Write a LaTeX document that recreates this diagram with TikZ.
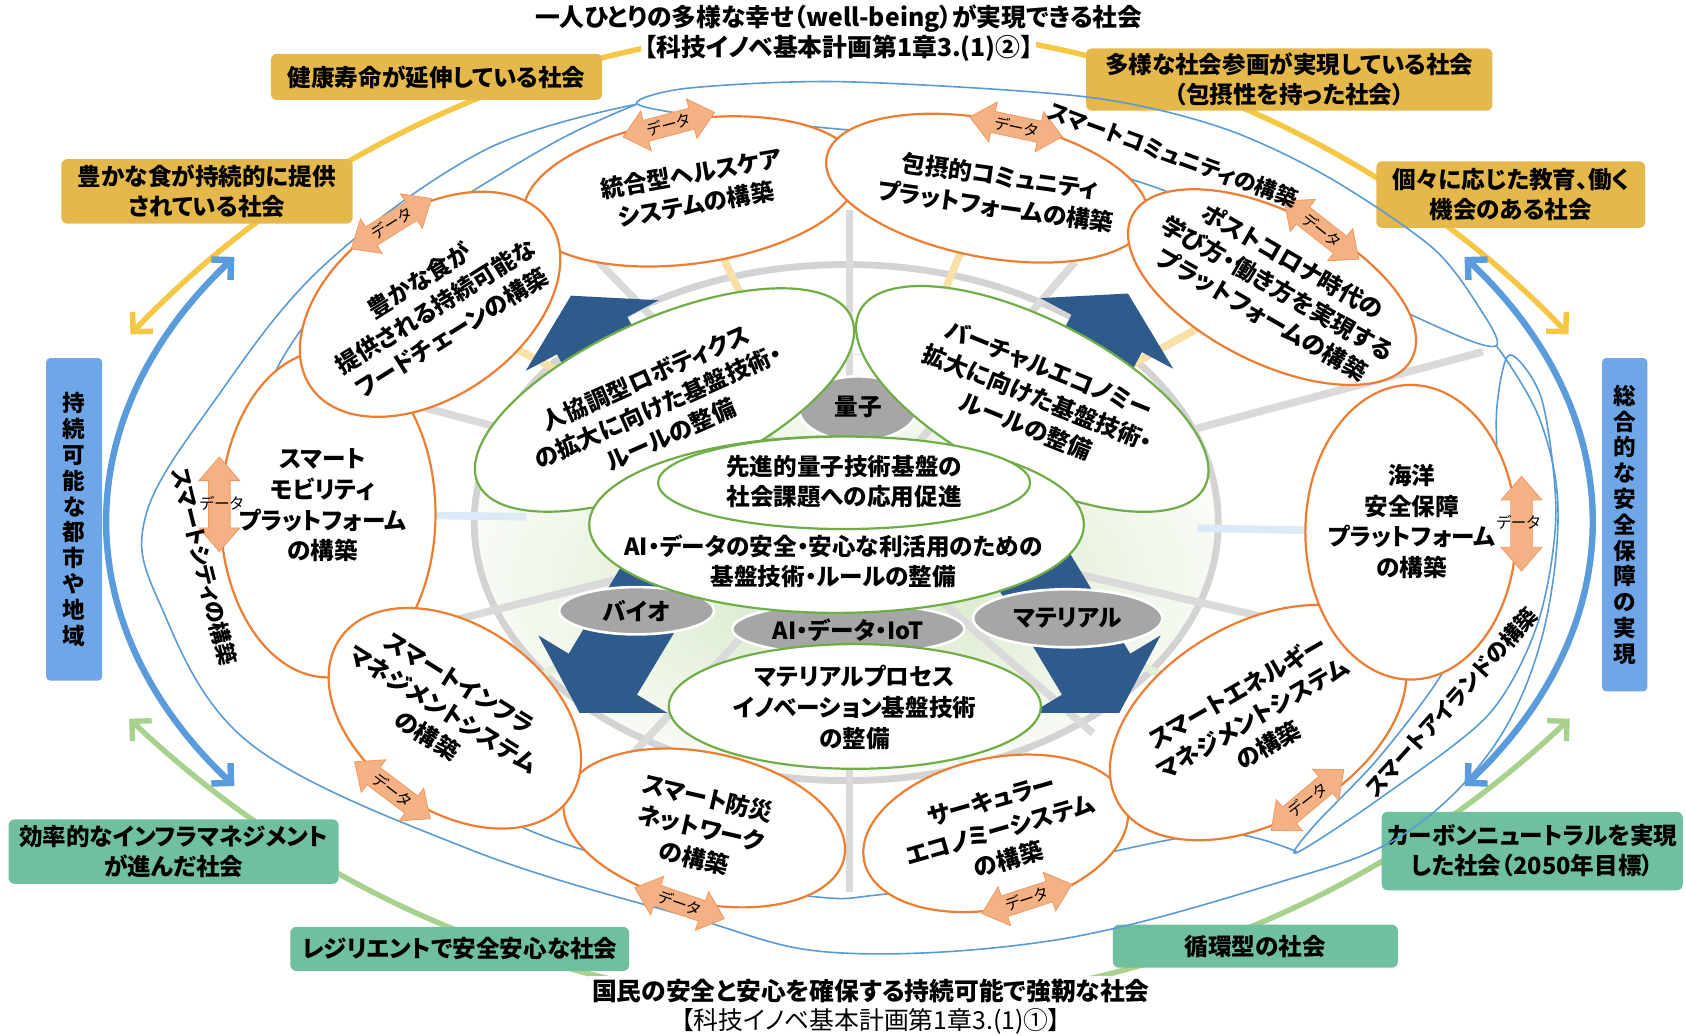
\documentclass[tikz,border=0pt]{standalone}
\usepackage{fontspec}
\setmainfont{Noto Sans CJK JP}[RawFeature=+palt]
\usetikzlibrary{arrows.meta,calc}
\definecolor{cOr}{HTML}{ED7D31}
\definecolor{cGr}{HTML}{70AD47}
\definecolor{cGy}{HTML}{A6A6A6}
\definecolor{cBl}{HTML}{5B9BD5}
\definecolor{cBt}{HTML}{5A9BDC}
\definecolor{cNv}{HTML}{2F5A8C}
\definecolor{cSp}{HTML}{DADADA}
\definecolor{cRg}{HTML}{D3D3D3}
\definecolor{cPg}{HTML}{D3E6C3}
\definecolor{cYb}{HTML}{E5B84C}
\definecolor{cGb}{HTML}{70BF9E}
\definecolor{cBb}{HTML}{6FA6E8}
\definecolor{cYa}{HTML}{F6C744}
\definecolor{cGa}{HTML}{A9D18E}
\definecolor{cDa}{HTML}{F4B183}
\definecolor{cDl}{HTML}{EE9A62}
\definecolor{cYs}{HTML}{F8E1A8}
\definecolor{cBs}{HTML}{DCE9F6}
\definecolor{cGs}{HTML}{E3EFDA}
\newcommand\ux{0.5376pt}
\newcommand\dataarr[3]{%
  \filldraw[darw,shift={(#1,#2)},rotate=#3] (-44,0) -- (-22,-19) -- (-22,-10) -- (22,-10) -- (22,-19) -- (44,0) -- (22,19) -- (22,10) -- (-22,10) -- (-22,19) -- cycle;}
\newcommand\navyarr[3]{%
  \fill[cNv,shift={(#1,#2)},rotate=#3] (0,0) -- (-42,70) -- (-42,37) -- (-172,37) -- (-172,-37) -- (-42,-37) -- (-42,-70) -- cycle;}
\begin{document}
\begin{tikzpicture}[x=0.5376pt,y=-0.5376pt,
  oell/.style={draw=cOr,line width=1.1pt,fill=white},
  gell/.style={draw=cGr,line width=1.1pt,fill=white},
  grel/.style={fill=cGy,draw=white,line width=1.3pt},
  etx/.style={font=\bfseries\fontsize{11.8}{15.4}\selectfont,align=center,inner sep=0pt},
  lbl/.style={font=\bfseries\fontsize{11}{12}\selectfont,inner sep=0pt},
  dtx/.style={font=\fontsize{7.8}{8}\selectfont,inner sep=0pt},
  ybx/.style={fill=cYb,rounded corners=3pt,inner sep=0pt,align=center,font=\bfseries\fontsize{11.8}{15}\selectfont},
  gbx/.style={fill=cGb,rounded corners=3pt,inner sep=0pt,align=center,font=\bfseries\fontsize{11.8}{15}\selectfont},
  vbx/.style={fill=cBb,rounded corners=2pt,inner sep=0pt,align=center,font=\bfseries\fontsize{11.3}{12.9}\selectfont},
  bline/.style={draw=cBl,line width=0.8pt},
  spk/.style={line width=3.8pt,draw=cSp},
  darw/.style={fill=cDa,draw=cDl,line width=0.4pt},
  barbs/.style={{Straight Barb[length=7pt,width=14pt]}-{Straight Barb[length=7pt,width=14pt]}},
  ttl/.style={font=\bfseries\fontsize{12.4}{14}\selectfont,fill=white,inner sep=1.5pt}
]
\useasboundingbox (0,0) rectangle (1568,963);
\fill[white] (0,0) rectangle (1568,963);

% big yellow and green arcs
\draw[cYa,line width=2.7pt,barbs] ([shift={(223.7:925)}]790,950) arc[start angle=223.7,end angle=316.3,radius=925];
\draw[cGa,line width=2.7pt,barbs] ([shift={(133.4:975)}]790,-40) arc[start angle=133.4,end angle=46.6,radius=975];

% society boxes
\node[ybx,minimum width=308*\ux,minimum height=43*\ux] (y1) at (406,71.5) {健康寿命が延伸している社会};
\node[ybx,minimum width=271*\ux,minimum height=60*\ux] (y2) at (192.5,178) {豊かな食が持続的に提供\\されている社会};
\node[ybx,minimum width=378*\ux,minimum height=58*\ux] (y3) at (1199,74) {多様な社会参画が実現している社会\\（包摂性を持った社会）};
\node[ybx,minimum width=250*\ux,minimum height=62*\ux] (y4) at (1405,181) {個々に応じた教育、働く\\機会のある社会};
\node[gbx,minimum width=307*\ux,minimum height=60*\ux] (g1) at (161.5,792) {効率的なインフラマネジメント\\が進んだ社会};
\node[gbx,minimum width=315*\ux,minimum height=41*\ux] (g2) at (427.5,882.5) {レジリエントで安全安心な社会};
\node[gbx,minimum width=265*\ux,minimum height=40*\ux] (g3) at (1167.5,880) {循環型の社会};
\node[gbx,minimum width=280*\ux,minimum height=73*\ux] (g4) at (1425,791.5) {カーボンニュートラルを実現\\した社会（2050年目標）};
\node[vbx,minimum width=52*\ux,minimum height=300*\ux] (vl) at (69,483) {持\\続\\可\\能\\な\\都\\市\\や\\地\\域};
\node[vbx,minimum width=42*\ux,minimum height=310*\ux] (vr) at (1511,488) {総\\合\\的\\な\\安\\全\\保\\障\\の\\実\\現};

% thick blue double arrows
\draw[cBt,line width=3.2pt,barbs] ([shift={(146:690 and 440)}]790,485) arc[start angle=146,end angle=214,x radius=690,y radius=440];
\draw[cBt,line width=3.2pt,barbs] ([shift={(-34:690 and 440)}]790,485) arc[start angle=-34,end angle=34,x radius=690,y radius=440];

% centre: pale green field, grey ring, spokes
\coordinate (ctr) at (790,485);
\begin{scope}
  \clip (787,486) ellipse [x radius=346,y radius=240];
  \fill[inner color=cPg,outer color=white] (790,540) ellipse [x radius=420,y radius=210];
\end{scope}
\draw[cRg,line width=3.4pt] (787,486) ellipse [x radius=346,y radius=240];
\foreach \a/\l in {-90/290,-49/320,-15/610,13/420,41/300,90/345,133/300,166/400,195/420,226/340}
  \draw[spk] (ctr) -- ++(\a:\l);
\coordinate (c1) at (643,178);
\coordinate (c2) at (918,175);
\coordinate (c3) at (1183,267);
\coordinate (c4) at (400,283);
\coordinate (c5) at (305,478);
\coordinate (c6) at (423,668);
\coordinate (c7) at (655,770);
\coordinate (c8) at (926,775);
\coordinate (c9) at (1170,672);
\coordinate (c10) at (1312,495);
\foreach \c in {c1,c2,c3,c4} \draw[spk,draw=cYs] ($(ctr)!0.62!(\c)$) -- (\c);
\foreach \c in {c5,c10} \draw[spk,draw=cBs] ($(ctr)!0.62!(\c)$) -- (\c);
\foreach \c in {c6,c7,c8,c9} \draw[spk,draw=cGs] ($(ctr)!0.62!(\c)$) -- (\c);

% blue region outlines
\draw[bline] plot[smooth,tension=0.6] coordinates {(592,97) (450,140) (300,248) (200,372) (136,478) (148,560) (232,691) (437,790) (642,853) (778,886) (983,874) (1188,821) (1302,778) (1385,700) (1432,600) (1449,479) (1432,390) (1392,322)};
\draw[bline] plot[smooth cycle,tension=0.5] coordinates {(592,96) (640,82) (784,76) (1009,90) (1134,118) (1234,164) (1334,232) (1382,296) (1392,321) (1365,316) (1284,279) (1180,222) (1074,174) (940,138) (800,122) (651,108)};
\draw[bline] plot[smooth cycle,tension=0.5] coordinates {(1404,330) (1434,372) (1447,479) (1430,580) (1384,665) (1284,742) (1206,793) (1222,768) (1282,705) (1342,625) (1380,540) (1392,460) (1392,380)};
\draw[bline] plot[smooth,tension=0.6] coordinates {(592,97) (520,130) (420,190) (330,250) (259,340) (235,430) (240,520) (299,623) (380,700) (478,766) (620,812) (758,834) (819,832) (950,815) (1044,790) (1140,775) (1206,792)};

% navy arrows
\navyarr{1049}{273}{62}
\navyarr{531}{275}{118}
\navyarr{539}{663}{239}
\navyarr{1041}{663}{301}

% grey field ellipses
\draw[grel] (798,380) ellipse [x radius=55,y radius=30];
\draw[grel] (592,568) ellipse [x radius=72,y radius=22];
\draw[grel] (789,585) ellipse [x radius=108,y radius=24];
\draw[grel] (993,575) ellipse [x radius=88,y radius=27];
% green ellipses
\draw[gell,rotate around={24:(618,372)}] (618,372) ellipse [x radius=190,y radius=76];
\draw[gell,rotate around={-27:(960,371)}] (960,371) ellipse [x radius=180,y radius=74];
\draw[gell] (778,488) ellipse [x radius=230,y radius=82];
\draw[gell] (785,449) ellipse [x radius=173,y radius=43];
\draw[gell] (795,657) ellipse [x radius=173,y radius=58];

% orange ellipses
\draw[oell] (c5) ellipse [x radius=100,y radius=152];
\draw[oell,rotate around={8:(c1)}] (c1) ellipse [x radius=157,y radius=67];
\draw[oell,rotate around={35:(c4)}] (c4) ellipse [x radius=135,y radius=86];
\draw[oell,rotate around={-11:(c2)}] (c2) ellipse [x radius=152,y radius=64];
\draw[oell,rotate around={-27:(c3)}] (c3) ellipse [x radius=146,y radius=70];
\draw[oell,rotate around={12:(c8)}] (c8) ellipse [x radius=125,y radius=70];
\draw[oell,rotate around={30:(c9)}] (c9) ellipse [x radius=150,y radius=92];
\draw[oell] (c10) ellipse [x radius=98,y radius=137];
\draw[oell,rotate around={-12:(c7)}] (c7) ellipse [x radius=133,y radius=70];
\draw[oell,rotate around={-35:(c6)}] (c6) ellipse [x radius=130,y radius=86];

% data arrows
\dataarr{622}{116}{15}
\dataarr{945}{118}{-12}
\dataarr{1229}{214}{-38}
\dataarr{364}{208}{32}
\dataarr{204}{469}{90}
\dataarr{365}{735}{-37}
\dataarr{632}{840}{-19}
\dataarr{955}{836}{18}
\dataarr{1216}{744}{40}
\dataarr{1415}{487}{90}
\node[dtx,rotate=15] (d1) at (622,116) {データ};
\node[dtx,rotate=-12] (d2) at (945,118) {データ};
\node[dtx,rotate=-38] (d3) at (1229,214) {データ};
\node[dtx,rotate=32] (d4) at (364,208) {データ};
\node[dtx] (d5) at (206,468) {データ};
\node[dtx,rotate=-37] (d6) at (365,735) {データ};
\node[dtx,rotate=-19] (d7) at (632,840) {データ};
\node[dtx,rotate=18] (d8) at (955,836) {データ};
\node[dtx,rotate=38] (d9) at (1216,744) {データ};
\node[dtx] (d10) at (1412,486) {データ};

% texts of orange ellipses
\node[etx,rotate=10] (o1) at (645,176) {統合型ヘルスケア\\システムの構築};
\node[etx,rotate=-8] (o2) at (928,178) {包摂的コミュニティ\\プラットフォームの構築};
\node[etx,rotate=-30] (o3) at (1188,268) {ポストコロナ時代の\\学び方・働き方を実現する\\プラットフォームの構築};
\node[etx,rotate=32] (o4) at (405,285) {豊かな食が\\提供される持続可能な\\フードチェーンの構築};
\node[etx] (o5) at (300,470) {スマート\\モビリティ\\プラットフォーム\\の構築};
\node[etx,rotate=-32] (o6) at (412,660) {スマートインフラ\\マネジメントシステム\\の構築};
\node[etx,rotate=-13] (o7) at (652,770) {スマート防災\\ネットワーク\\の構築};
\node[etx,rotate=16] (o8) at (930,772) {サーキュラー\\エコノミーシステム\\の構築};
\node[etx,rotate=30] (o9) at (1165,668) {スマートエネルギー\\マネジメントシステム\\の構築};
\node[etx] (o10) at (1313,485) {海洋\\安全保障\\プラットフォーム\\の構築};

% texts of green and grey ellipses
\node[etx,rotate=24] (ga) at (612,378) {人協調型ロボティクス\\の拡大に向けた基盤技術・\\ルールの整備};
\node[etx,rotate=-22] (gb) at (965,370) {バーチャルエコノミー\\拡大に向けた基盤技術・\\ルールの整備};
\node[etx] (gc) at (785,448) {先進的量子技術基盤の\\社会課題への応用促進};
\node[etx] (gd) at (775,522) {AI・データの安全・安心な利活用のための\\基盤技術・ルールの整備};
\node[etx] (ge) at (795,658) {マテリアルプロセス\\イノベーション基盤技術\\の整備};
\node[etx] (q1) at (798,378) {量子};
\node[etx] (q2) at (592,568) {バイオ};
\node[etx] (q3) at (789,586) {AI・データ・IoT};
\node[etx] (q4) at (993,575) {マテリアル};

% band labels
\node[lbl,rotate=-20] (lc) at (1091,144) {スマートコミュニティの構築};
\node[lbl,rotate=-76] (ls) at (190,527) {スマートシティの構築};
\node[lbl,rotate=48] (li) at (1350,653) {スマートアイランドの構築};

% titles
\node[ttl] (t1) at (780,17) {一人ひとりの多様な幸せ（well-being）が実現できる社会};
\node[ttl] (t2) at (780,45) {【科技イノベ基本計画第1章3.(1)②】};
\node[ttl] (b1) at (810,922) {国民の安全と安心を確保する持続可能で強靭な社会};
\node[ttl,font=\fontsize{12.4}{14}\selectfont] (b2) at (810,950) {【科技イノベ基本計画第1章3.(1)①】};
\end{tikzpicture}
\end{document}
